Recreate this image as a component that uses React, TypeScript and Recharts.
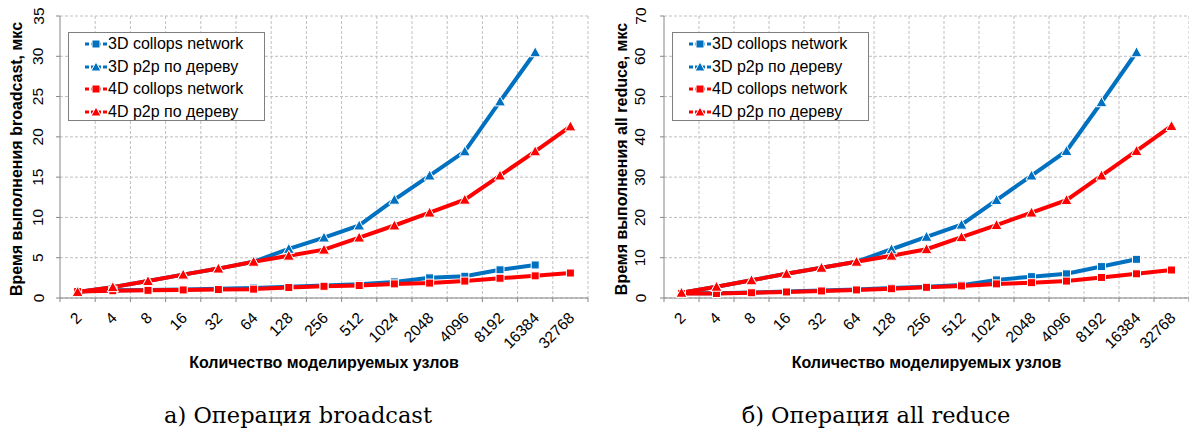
import React from 'react';
import { LineChart, Line, XAxis, YAxis, CartesianGrid, Legend, Label } from 'recharts';

const nodes = ['2', '4', '8', '16', '32', '64', '128', '256', '512', '1024', '2048', '4096', '8192', '16384', '32768'];

// broadcast, мкс
const bcCollops3D = [0.8, 0.95, 1.0, 1.05, 1.15, 1.25, 1.4, 1.55, 1.7, 2.0, 2.5, 2.7, 3.5, 4.1, null];
const bcP2p3D = [0.75, 1.35, 2.1, 2.9, 3.65, 4.5, 6.1, 7.5, 9.0, 12.2, 15.2, 18.2, 24.4, 30.5, null];
const bcCollops4D = [0.8, 0.9, 0.95, 1.0, 1.05, 1.1, 1.3, 1.45, 1.55, 1.75, 1.85, 2.1, 2.45, 2.75, 3.1];
const bcP2p4D = [0.75, 1.35, 2.1, 2.9, 3.65, 4.5, 5.25, 6.0, 7.5, 9.0, 10.6, 12.2, 15.2, 18.2, 21.3];

// all reduce, мкс
const arCollops3D = [1.2, 1.2, 1.35, 1.6, 1.85, 2.1, 2.5, 2.8, 3.2, 4.5, 5.3, 6.0, 7.8, 9.6, null];
const arP2p3D = [1.3, 2.8, 4.4, 6.0, 7.5, 9.0, 12.1, 15.2, 18.2, 24.3, 30.4, 36.5, 48.6, 61.0, null];
const arCollops4D = [1.1, 1.1, 1.3, 1.5, 1.75, 2.0, 2.3, 2.65, 3.0, 3.5, 3.8, 4.2, 5.1, 6.0, 6.95];
const arP2p4D = [1.3, 2.8, 4.4, 6.0, 7.5, 9.0, 10.5, 12.1, 15.1, 18.1, 21.2, 24.3, 30.4, 36.5, 42.7];

const bcTicks = [0, 5, 10, 15, 20, 25, 30, 35];
const arTicks = [0, 10, 20, 30, 40, 50, 60, 70];

const BLUE = '#0070c0';
const RED = '#ff0000';
const AXIS = '#868686';
const GRID = '#bfbfbf';
const SANS = '"Liberation Sans", Arial, sans-serif';

const legendItems = [
  { label: '3D collops network', color: BLUE, shape: 'square' },
  { label: '3D p2p по дереву', color: BLUE, shape: 'triangle' },
  { label: '4D collops network', color: RED, shape: 'square' },
  { label: '4D p2p по дереву', color: RED, shape: 'triangle' },
];

const squareDot = (color: string) => (p: any) => {
  if (p.cx == null || p.cy == null || p.value == null) return <g key={`s${p.index}`} />;
  return (
    <rect key={`s${p.index}`} x={p.cx - 4} y={p.cy - 4} width={8} height={8}
      fill={color} stroke="#fff" strokeWidth={1} />
  );
};

const triangleDot = (color: string) => (p: any) => {
  if (p.cx == null || p.cy == null || p.value == null) return <g key={`t${p.index}`} />;
  const { cx, cy } = p;
  return (
    <polygon key={`t${p.index}`} points={`${cx},${cy - 5.5} ${cx + 5.5},${cy + 4.5} ${cx - 5.5},${cy + 4.5}`}
      fill={color} stroke="#fff" strokeWidth={1} />
  );
};

const LegendIcon = ({ color, shape }: { color: string; shape: string }) => (
  <svg width={22} height={12} style={{ marginRight: 1 }}>
    <line x1={0} x2={22} y1={6} y2={6} stroke={color} strokeWidth={3} strokeDasharray="4 2" />
    {shape === 'square' ? (
      <rect x={7} y={2} width={8} height={8} fill={color} stroke="#fff" strokeWidth={1} />
    ) : (
      <polygon points="11,1 16,10 6,10" fill={color} stroke="#fff" strokeWidth={1} />
    )}
  </svg>
);

const LegendBox = () => (
  <div style={{
    border: '1px solid #7f7f7f', background: '#fff', width: 197, height: 89, boxSizing: 'border-box',
    paddingLeft: 16, fontFamily: SANS, fontSize: 16, color: '#000',
  }}>
    {legendItems.map((it) => (
      <div key={it.label} style={{ display: 'flex', alignItems: 'center', height: 22.5, whiteSpace: 'nowrap' }}>
        <LegendIcon color={it.color} shape={it.shape} />
        <span>{it.label}</span>
      </div>
    ))}
  </div>
);

interface PanelProps {
  width: number;
  yAxisWidth: number;
  marginRight: number;
  yMax: number;
  yTicks: number[];
  yTitle: string;
  yTickX: number;
  yTitleX: number;
  legendLeft: number;
  c3: (number | null)[];
  p3: (number | null)[];
  c4: (number | null)[];
  p4: (number | null)[];
}

const HEIGHT = 380;
const TOP = 16;
const X_AXIS_H = 82;

const Panel = ({ width, yAxisWidth, marginRight, yMax, yTicks, yTitle, yTickX, yTitleX, legendLeft, c3, p3, c4, p4 }: PanelProps) => {
  const data = nodes.map((n, i) => ({ n, c3: c3[i], p3: p3[i], c4: c4[i], p4: p4[i] }));
  const plotW = width - yAxisWidth - marginRight;
  const bw = plotW / nodes.length;
  const plotBottom = HEIGHT - X_AXIS_H;

  const xTick = (p: any) => {
    const { x, y, payload, index } = p;
    const tx = x + 5;
    const ty = y + 21;
    return (
      <g>
        <line x1={x - bw / 2} x2={x - bw / 2} y1={y} y2={y + 4} stroke={AXIS} />
        {index === nodes.length - 1 && <line x1={x + bw / 2} x2={x + bw / 2} y1={y} y2={y + 4} stroke={AXIS} />}
        <text x={tx} y={ty} textAnchor="end" transform={`rotate(-45 ${tx} ${ty})`}
          fontSize={15.5} fontFamily={SANS} fill="#000">{payload.value}</text>
      </g>
    );
  };

  const yTick = (p: any) => (
    <text x={yTickX} y={p.y} textAnchor="middle" dominantBaseline="central"
      transform={`rotate(-90 ${yTickX} ${p.y})`} fontSize={15.5} fontFamily={SANS} fill="#000">
      {p.payload.value}
    </text>
  );

  return (
    <LineChart width={width} height={HEIGHT} data={data}
      margin={{ top: TOP, right: marginRight, left: 0, bottom: 0 }}>
      <CartesianGrid stroke={GRID} strokeDasharray="3 2"
        verticalCoordinatesGenerator={({ offset }: any) =>
          nodes.map((_, i) => offset.left + ((i + 1) * offset.width) / nodes.length)} />
      <XAxis dataKey="n" type="category" scale="band" height={X_AXIS_H} interval={0}
        tickLine={false} tickSize={0} tickMargin={0} stroke={AXIS} tick={xTick}>
        <Label content={(lp: any) => (
          <text x={lp.viewBox.x + lp.viewBox.width / 2} y={plotBottom + 64} textAnchor="middle"
            dominantBaseline="central" fontSize={16} fontWeight="bold" fontFamily={SANS} fill="#000">
            Количество моделируемых узлов
          </text>
        )} />
      </XAxis>
      <YAxis type="number" domain={[0, yMax]} ticks={yTicks} width={yAxisWidth} interval={0}
        stroke={AXIS} tickSize={4} tick={yTick}>
        <Label content={() => (
          <text x={yTitleX} y={159} textAnchor="middle" dominantBaseline="central"
            transform={`rotate(-90 ${yTitleX} 159)`} fontSize={16} fontWeight="bold" fontFamily={SANS} fill="#000">
            {yTitle}
          </text>
        )} />
      </YAxis>
      <Legend layout="vertical" align="center" verticalAlign="middle" content={() => <LegendBox />}
        wrapperStyle={{ left: legendLeft, top: 32, width: 197, height: 89 }} />
      <Line dataKey="c3" stroke={BLUE} strokeWidth={4} dot={squareDot(BLUE)} activeDot={false} isAnimationActive={false} />
      <Line dataKey="p3" stroke={BLUE} strokeWidth={4} dot={triangleDot(BLUE)} activeDot={false} isAnimationActive={false} />
      <Line dataKey="c4" stroke={RED} strokeWidth={4} dot={squareDot(RED)} activeDot={false} isAnimationActive={false} />
      <Line dataKey="p4" stroke={RED} strokeWidth={4} dot={triangleDot(RED)} activeDot={false} isAnimationActive={false} />
    </LineChart>
  );
};

const captionStyle: React.CSSProperties = {
  position: 'absolute', top: 401, width: 400, textAlign: 'center',
  fontFamily: '"DejaVu Serif", "Liberation Serif", serif', fontSize: 22.5, lineHeight: '28px', color: '#000',
};

export default function App() {
  return (
    <div style={{ position: 'absolute', left: 0, top: 0, width: 1189, height: 432, background: '#fff', overflow: 'hidden' }}>
      <div style={{ position: 'absolute', left: 0, top: 0 }}>
        <Panel width={595} yAxisWidth={60} marginRight={7} yMax={35} yTicks={bcTicks}
          yTitle="Время выполнения broadcast, мкс" yTickX={38} yTitleX={16} legendLeft={68}
          c3={bcCollops3D} p3={bcP2p3D} c4={bcCollops4D} p4={bcP2p4D} />
      </div>
      <div style={{ position: 'absolute', left: 595, top: 0 }}>
        <Panel width={594} yAxisWidth={69} marginRight={0} yMax={70} yTicks={arTicks}
          yTitle="Время выполнения all reduce, мкс" yTickX={45} yTitleX={26} legendLeft={77}
          c3={arCollops3D} p3={arP2p3D} c4={arCollops4D} p4={arP2p4D} />
      </div>
      <div style={{ ...captionStyle, left: 98 }}>а) Операция broadcast</div>
      <div style={{ ...captionStyle, left: 676 }}>б) Операция all reduce</div>
    </div>
  );
}
